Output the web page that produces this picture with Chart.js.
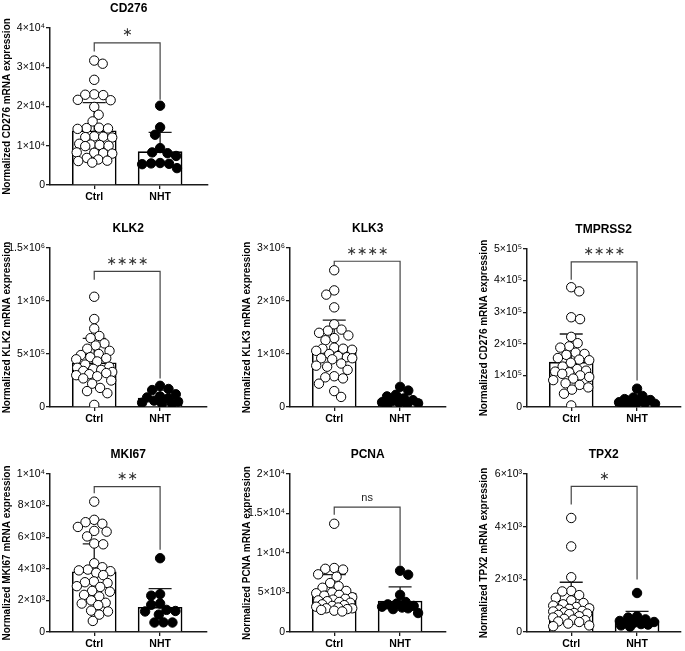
<!DOCTYPE html>
<html>
<head>
<meta charset="utf-8">
<script src="https://cdn.jsdelivr.net/npm/chart.js@4.4.1/dist/chart.umd.min.js"></script>
<style>
  body { margin: 0; background: #fff; width: 685px; height: 651px; position: relative; overflow: hidden; }
  canvas { position: absolute; }
</style>
</head>
<body>
<script>
const categories = ['Ctrl', 'NHT'];

// CD276
const cd276Ctrl = [31700, 30900, 26800, 23100, 23000, 22900, 21700, 21600, 19900, 17900, 16200, 14600, 14500, 14400, 14300, 12400, 12300, 12200, 12100, 10500, 10300, 10200, 10000, 9900, 8300, 8200, 8100, 8000, 6900, 6500, 6200, 6100, 5700];
const cd276Nht = [20200, 14700, 12800, 9400, 8300, 8100, 7400, 5600, 5500, 5400, 5300, 4300];
const cd276Mean = [13800, 8500];
const cd276SdTop = [21000, 13400];
const cd276Ticks = ['0', '1×10⁴', '2×10⁴', '3×10⁴', '4×10⁴'];
const cd276Bracket = [36200, 34000, 21700];

// KLK2
const klk2Ctrl = [1040000, 830000, 740000, 670000, 650000, 600000, 580000, 550000, 530000, 500000, 490000, 470000, 460000, 450000, 430000, 400000, 380000, 370000, 360000, 350000, 340000, 330000, 320000, 310000, 300000, 290000, 270000, 250000, 220000, 180000, 150000, 130000, 20000];
const klk2Nht = [200000, 170000, 160000, 120000, 100000, 90000, 80000, 60000, 50000, 40000, 30000, 30000];
const klk2Mean = [417000, 85000];
const klk2SdTop = [647000, 160000];
const klk2Ticks = ['0', '5×10⁵', '1×10⁶', '1.5×10⁶'];
const klk2Bracket = [1280000, 1200000, 270000];

// KLK3
const klk3Ctrl = [2580000, 2200000, 2120000, 1880000, 1560000, 1460000, 1440000, 1400000, 1350000, 1300000, 1260000, 1120000, 1100000, 1100000, 1080000, 1060000, 1000000, 960000, 940000, 920000, 920000, 900000, 820000, 780000, 760000, 700000, 580000, 560000, 540000, 440000, 300000, 190000];
const klk3Nht = [380000, 310000, 230000, 200000, 160000, 130000, 110000, 90000, 80000, 70000, 50000, 30000];
const klk3Mean = [1080000, 140000];
const klk3SdTop = [1640000, 240000];
const klk3Ticks = ['0', '1×10⁶', '2×10⁶', '3×10⁶'];
const klk3Bracket = [2750000, 2670000, 470000];

// TMPRSS2
const tmprss2Ctrl = [379000, 366000, 284000, 278000, 222000, 202000, 192000, 188000, 172000, 168000, 165000, 155000, 150000, 148000, 140000, 128000, 120000, 115000, 112000, 110000, 105000, 100000, 95000, 90000, 85000, 75000, 70000, 62000, 55000, 42000, 5000];
const tmprss2Nht = [58000, 35000, 30000, 25000, 22000, 18000, 15000, 13000, 12000, 10000, 8000, 6000];
const tmprss2Mean = [142000, 18000];
const tmprss2SdTop = [231000, 34000];
const tmprss2Ticks = ['0', '1×10⁵', '2×10⁵', '3×10⁵', '4×10⁵', '5×10⁵'];
const tmprss2Bracket = [459000, 403000, 84000];

// MKI67
const mki67Ctrl = [8250, 7100, 6950, 6850, 6650, 6400, 6350, 6050, 5600, 5550, 4350, 4100, 3950, 3900, 3850, 3750, 3600, 3200, 3150, 3100, 2900, 2850, 2600, 2550, 2350, 2250, 2000, 1850, 1800, 1700, 1350, 1300, 1100, 700];
const mki67Nht = [4670, 2400, 2300, 1800, 1720, 1400, 1330, 1300, 1100, 610, 600, 600];
const mki67Mean = [3810, 1560];
const mki67SdTop = [5580, 2740];
const mki67Ticks = ['0', '2×10³', '4×10³', '6×10³', '8×10³', '1×10⁴'];
const mki67Bracket = [9200, 8780, 5200];

// PCNA
const pcnaCtrl = [13700, 8100, 8000, 7900, 7300, 7000, 6200, 5800, 5600, 5200, 5000, 4900, 4700, 4600, 4400, 4200, 4100, 4000, 3900, 3800, 3700, 3500, 3400, 3300, 3200, 3100, 3000, 3000, 2900, 2800, 2700, 2600];
const pcnaNht = [7750, 7250, 4700, 3800, 3600, 3500, 3300, 3200, 3100, 3000, 2900, 2400];
const pcnaMean = [4940, 3920];
const pcnaSdTop = [7260, 5700];
const pcnaTicks = ['0', '5×10³', '1×10⁴', '1.5×10⁴', '2×10⁴'];
const pcnaBracket = [15800, 14850, 8400];

// TPX2
const tpx2Ctrl = [4330, 3250, 2080, 1560, 1540, 1400, 1300, 1200, 1100, 1050, 1000, 950, 900, 880, 850, 800, 780, 750, 720, 700, 680, 650, 600, 550, 500, 470, 450, 400, 380, 320, 250, 220];
const tpx2Nht = [1480, 600, 550, 480, 420, 380, 350, 330, 300, 280, 250, 200];
const tpx2Mean = [1030, 430];
const tpx2SdTop = [1890, 780];
const tpx2Ticks = ['0', '2×10³', '4×10³', '6×10³'];
const tpx2Bracket = [5530, 4840, 1990];

const yMax = [40000, 1500000, 3000000, 500000, 10000, 20000, 6000];
const sigLabels = ['∗', '∗∗∗∗', '∗∗∗∗', '∗∗∗∗', '∗∗', 'ns', '∗'];

Chart.defaults.font.family = '"Liberation Sans", Arial, sans-serif';
Chart.defaults.color = '#000';

const panels = [
  { title: 'CD276', yTitle: 'Normalized CD276 mRNA expression', ctrl: cd276Ctrl, nht: cd276Nht, mean: cd276Mean, sdTop: cd276SdTop, ticks: cd276Ticks, bracket: cd276Bracket, axisX: 50, right: 210, top: 28, zero: 185 },
  { title: 'KLK2', yTitle: 'Normalized KLK2 mRNA expression', ctrl: klk2Ctrl, nht: klk2Nht, mean: klk2Mean, sdTop: klk2SdTop, ticks: klk2Ticks, bracket: klk2Bracket, axisX: 50, right: 209, top: 248, zero: 407 },
  { title: 'KLK3', yTitle: 'Normalized KLK3 mRNA expression', ctrl: klk3Ctrl, nht: klk3Nht, mean: klk3Mean, sdTop: klk3SdTop, ticks: klk3Ticks, bracket: klk3Bracket, axisX: 290, right: 448, top: 248, zero: 407 },
  { title: 'TMPRSS2', yTitle: 'Normalized CD276 mRNA expression', ctrl: tmprss2Ctrl, nht: tmprss2Nht, mean: tmprss2Mean, sdTop: tmprss2SdTop, ticks: tmprss2Ticks, bracket: tmprss2Bracket, axisX: 527, right: 683, top: 249, zero: 407 },
  { title: 'MKI67', yTitle: 'Normalized MKI67 mRNA expression', ctrl: mki67Ctrl, nht: mki67Nht, mean: mki67Mean, sdTop: mki67SdTop, ticks: mki67Ticks, bracket: mki67Bracket, axisX: 50, right: 209, top: 474, zero: 632 },
  { title: 'PCNA', yTitle: 'Normalized PCNA mRNA expression', ctrl: pcnaCtrl, nht: pcnaNht, mean: pcnaMean, sdTop: pcnaSdTop, ticks: pcnaTicks, bracket: pcnaBracket, axisX: 290, right: 448, top: 474, zero: 632 },
  { title: 'TPX2', yTitle: 'Normalized TPX2 mRNA expression', ctrl: tpx2Ctrl, nht: tpx2Nht, mean: tpx2Mean, sdTop: tpx2SdTop, ticks: tpx2Ticks, bracket: tpx2Bracket, axisX: 527, right: 683, top: 474, zero: 632 }
];

const INK = '#1a1a1a';
const UNIT_PX = 67;   // px between the two column centres
const FIRST_PX = 45;  // first column centre, px right of the y axis
const PAD_TOP = 30;

// simple beeswarm in pixel space so circles sit side by side like the original
function swarm(values, center, chart) {
  const xs = chart.scales.x, ys = chart.scales.y;
  const unit = xs.getPixelForValue(1) - xs.getPixelForValue(0);
  const d = 9, maxOff = 18;
  const order = values.map((v, i) => i).sort((a, b) => values[b] - values[a]);
  const placed = [];
  const offs = [];
  order.forEach((i, n) => {
    const py = ys.getPixelForValue(values[i]);
    const near = placed.filter(p => Math.abs(p.y - py) < d);
    const cands = [0];
    near.forEach(p => {
      const dx = Math.sqrt(d * d - (p.y - py) ** 2);
      cands.push(p.x - dx, p.x + dx);
    });
    const free = c => near.every(p => (p.x - c) ** 2 + (p.y - py) ** 2 >= d * d - 0.01);
    const sign = n % 2 ? 1 : -1;
    const ok = cands.filter(c => Math.abs(c) <= maxOff && free(c))
      .sort((a, b) => (Math.abs(a) - Math.abs(b)) || (b * sign - a * sign));
    let best = ok.length ? ok[0] : null;
    if (best === null) {
      let gap = -1;
      for (let c = -maxOff; c <= maxOff; c += 1) {
        const g = Math.min(...near.map(p => Math.hypot(p.x - c, p.y - py)));
        if (g > gap) { gap = g; best = c; }
      }
    }
    placed.push({ x: best, y: py });
    offs[i] = best;
  });
  return values.map((v, i) => ({ x: center + offs[i] / unit, y: v }));
}

function extras(p, sig) {
  return {
    id: 'extras',
    afterDatasetDraw(chart, args) {
      if (args.index !== 0) return;
      const { ctx, scales: { x, y } } = chart;
      ctx.save();
      ctx.strokeStyle = INK;
      ctx.lineWidth = 1.3;
      p.mean.forEach((m, i) => {
        const px = x.getPixelForValue(i);
        const top = y.getPixelForValue(p.sdTop[i]);
        ctx.beginPath();
        ctx.moveTo(px, y.getPixelForValue(m));
        ctx.lineTo(px, top);
        ctx.moveTo(px - 11.5, top);
        ctx.lineTo(px + 11.5, top);
        ctx.stroke();
      });
      ctx.restore();
    },
    afterDatasetsDraw(chart) {
      const { ctx, chartArea, scales: { x, y } } = chart;
      const x0 = x.getPixelForValue(0), x1 = x.getPixelForValue(1);
      const yTop = y.getPixelForValue(p.bracket[0]);
      ctx.save();
      ctx.strokeStyle = '#444';
      ctx.lineWidth = 1.2;
      ctx.beginPath();
      ctx.moveTo(x0, y.getPixelForValue(p.bracket[1]));
      ctx.lineTo(x0, yTop);
      ctx.lineTo(x1, yTop);
      ctx.lineTo(x1, y.getPixelForValue(p.bracket[2]));
      ctx.stroke();
      ctx.textAlign = 'center';
      ctx.textBaseline = 'middle';
      if (sig === 'ns') {
        ctx.fillStyle = '#222';
        ctx.font = '11px "Liberation Sans", Arial, sans-serif';
        ctx.fillText(sig, (x0 + x1) / 2, yTop - 9);
      } else {
        ctx.fillStyle = '#333';
        ctx.font = '12.5px "DejaVu Sans", sans-serif';
        ctx.fillText(sig, (x0 + x1) / 2, yTop - 10);
      }
      ctx.fillStyle = '#000';
      ctx.font = 'bold 12px "Liberation Sans", Arial, sans-serif';
      ctx.fillText(p.title, (chartArea.left + chartArea.right) / 2, chartArea.top - 19);
      ctx.restore();
    }
  };
}

panels.forEach((p, k) => {
  const canvas = document.createElement('canvas');
  const left = p.axisX - 50;
  const top = p.top - PAD_TOP;
  const width = p.right - left + 3;
  const height = p.zero - top + 22;
  canvas.style.left = left + 'px';
  canvas.style.top = top + 'px';
  canvas.style.width = width + 'px';
  canvas.style.height = height + 'px';
  canvas.width = width;
  canvas.height = height;
  document.body.appendChild(canvas);

  const plotW = p.right - p.axisX;
  const max = yMax[k];
  const chart = new Chart(canvas, {
    type: 'bar',
    data: {
      datasets: [
        {
          data: categories.map((c, i) => ({ x: i, y: p.mean[i] })),
          backgroundColor: '#fff', borderColor: '#000', borderWidth: 1.6,
          barThickness: 44, order: 2
        },
        {
          type: 'scatter', data: p.ctrl.map(v => ({ x: 0, y: v })),
          pointRadius: 4.7, pointBackgroundColor: '#fff', pointBorderColor: '#000', pointBorderWidth: 1, order: 1
        },
        {
          type: 'scatter', data: p.nht.map(v => ({ x: 1, y: v })),
          pointRadius: 4.7, pointBackgroundColor: '#000', pointBorderColor: '#000', pointBorderWidth: 1, order: 0
        }
      ]
    },
    options: {
      responsive: false,
      animation: false,
      events: [],
      layout: { padding: { left: 0, right: 3, top: PAD_TOP, bottom: 0 } },
      plugins: { legend: { display: false }, tooltip: { enabled: false } },
      scales: {
        x: {
          type: 'linear',
          min: -FIRST_PX / UNIT_PX,
          max: (plotW - FIRST_PX) / UNIT_PX,
          offset: false,
          afterBuildTicks: s => { s.ticks = categories.map((c, i) => ({ value: i })); },
          ticks: { callback: v => categories[v], font: { size: 10.5, weight: 'bold' }, padding: 2, maxRotation: 0, autoSkip: false, color: '#000' },
          grid: { offset: false, drawOnChartArea: false, color: INK, lineWidth: 1.3, tickLength: 4 },
          border: { color: INK, width: 1.5 },
          afterFit: s => { s.height = 22; }
        },
        y: {
          min: 0,
          max: max,
          afterBuildTicks: s => { s.ticks = p.ticks.map((t, i) => ({ value: max * i / (p.ticks.length - 1) })); },
          ticks: { callback: (v, i) => p.ticks[i], font: { size: 10.5 }, padding: 1, color: '#000' },
          grid: { drawOnChartArea: false, color: INK, lineWidth: 1.3, tickLength: 4 },
          border: { color: INK, width: 1.5 },
          title: { display: true, text: p.yTitle, font: { size: 10, weight: 'bold' }, padding: { top: 1, bottom: 0 }, color: '#000' },
          afterFit: s => { s.width = 50; }
        }
      }
    },
    plugins: [extras(p, sigLabels[k])]
  });

  chart.data.datasets[1].data = swarm(p.ctrl, 0, chart);
  chart.data.datasets[2].data = swarm(p.nht, 1, chart);
  chart.update('none');
});
</script>
</body>
</html>
